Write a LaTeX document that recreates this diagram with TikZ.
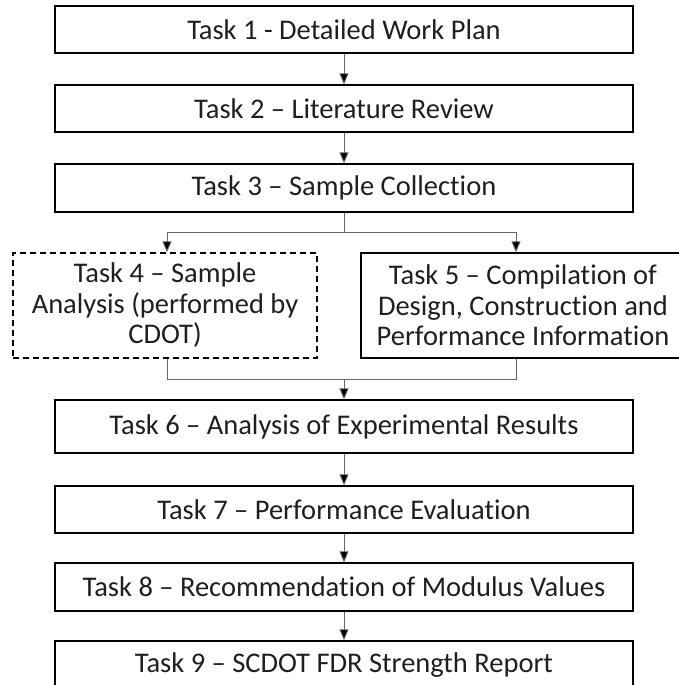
\documentclass[tikz,border=0pt]{standalone}
\usepackage{fontspec}
\setmainfont{Carlito}[RawFeature=-liga]
\usetikzlibrary{arrows.meta}
\begin{document}
\begin{tikzpicture}[x=1pt,y=-1pt,
  box/.style={draw=black,line width=1.4pt,rectangle,inner sep=0pt,align=center,
    font=\fontsize{28.5}{30.5}\selectfont,text=black!88},
  mainbox/.style={box,minimum width=578pt},
  conn/.style={draw=black!60,line width=0.9pt},
  arr/.style={conn,-{Triangle[length=11pt,width=9pt]},arrows={[fill=black]}}
]
\useasboundingbox (0,0) rectangle (679,685);
\node[mainbox,minimum height=47pt] (t1) at (344,29.5) {Task 1 - Detailed Work Plan};
\node[mainbox,minimum height=47pt] (t2) at (344,108.5) {Task 2 – Literature Review};
\node[mainbox,minimum height=48pt] (t3) at (344,188) {Task 3 – Sample Collection};
\node[box,dashed,dash pattern=on 6pt off 4pt,minimum width=304pt,minimum height=105pt] (t4) at (165,305.5)
  {Task 4 – Sample\\Analysis (performed by\\CDOT)};
\node[box,minimum width=324pt,minimum height=105pt] (t5) at (523,305.5)
  {Task 5 – Compilation of\\Design, Construction and\\Performance Information};
\node[mainbox,minimum height=53pt] (t6) at (344,426.5) {Task 6 – Analysis of Experimental Results};
\node[mainbox,minimum height=47pt] (t7) at (344,509.5) {Task 7 – Performance Evaluation};
\node[mainbox,minimum height=48pt] (t8) at (344,587) {Task 8 – Recommendation of Modulus Values};
\node[mainbox,minimum height=48pt] (t9) at (344,665) {Task 9 – SCDOT FDR Strength Report};

\coordinate (split) at (344,232);
\coordinate (join) at (344,379);

\draw[arr] (t1) -- (t2);
\draw[arr] (t2) -- (t3);
\draw[conn] (t3.south) -- (split);
\draw[arr] (split) -| (t4.north -| 167,0);
\draw[arr] (split) -| (t5.north -| 516,0);
\draw[conn] (t4.south -| 167,0) |- (join);
\draw[conn] (t5.south -| 516,0) |- (join);
\draw[arr] (join) -- (t6.north);
\draw[arr] (t6) -- (t7);
\draw[arr] (t7) -- (t8);
\draw[arr] (t8) -- (t9);
\end{tikzpicture}
\end{document}
